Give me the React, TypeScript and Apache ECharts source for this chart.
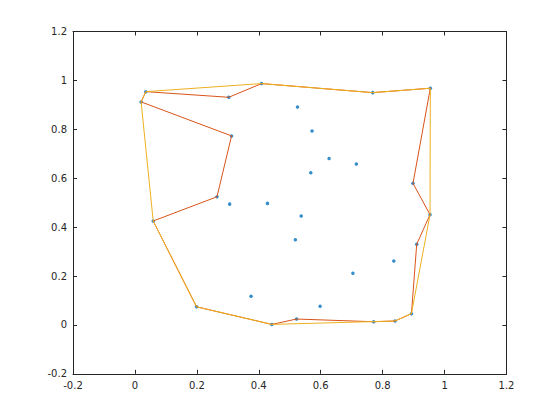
import React, { useEffect, useRef } from "react";
import * as echarts from "echarts";

const xs = [0.020, 0.035, 0.303, 0.409, 0.525, 0.312, 0.265, 0.306, 0.428, 0.768,
  0.954, 0.572, 0.627, 0.715, 0.568, 0.898, 0.059, 0.199, 0.375, 0.442,
  0.522, 0.518, 0.537, 0.953, 0.910, 0.836, 0.704, 0.598, 0.893, 0.840, 0.771];
const ys = [0.912, 0.954, 0.931, 0.987, 0.891, 0.773, 0.524, 0.494, 0.497, 0.950,
  0.968, 0.793, 0.681, 0.658, 0.622, 0.579, 0.425, 0.074, 0.117, 0.002,
  0.024, 0.348, 0.445, 0.451, 0.330, 0.261, 0.211, 0.076, 0.046, 0.016, 0.013];

// 1-based indices of boundary vertices
const tightBoundary = [1, 6, 7, 17, 18, 20, 21, 31, 30, 29, 25, 24, 16, 11, 10, 4, 3, 2, 1];
const looseBoundary = [1, 2, 4, 10, 11, 24, 29, 30, 20, 18, 17, 1];

const axisTicks = { min: -0.2, max: 1.2, interval: 0.2 };

const fmt = (v: number) => String(+v.toFixed(1));

export default function App() {
  const ref = useRef<HTMLDivElement>(null);
  useEffect(() => {
    if (!ref.current) return;
    const chart = echarts.init(ref.current, undefined, { renderer: "svg" });
    const pts = xs.map((x, i) => [x, ys[i]]);
    const axisColor = "#262626";
    const labelStyle = { color: axisColor, fontSize: 10, fontFamily: "DejaVu Sans" };
    const baseX = {
      type: "value" as const,
      ...axisTicks,
      axisLine: { show: true, onZero: false, lineStyle: { color: axisColor, width: 1 } },
      axisTick: { show: true, inside: true, length: 4, lineStyle: { color: axisColor } },
      splitLine: { show: false },
    };
    chart.setOption({
      animation: false,
      backgroundColor: "#ffffff",
      grid: { left: 73, right: 53.5, top: 31.5, bottom: 46.2, containLabel: false },
      xAxis: [
        { ...baseX, position: "bottom", axisLabel: { ...labelStyle, margin: 7, formatter: fmt } },
        { ...baseX, position: "top", axisLabel: { show: false } },
      ],
      yAxis: [
        { ...baseX, position: "left", axisLabel: { ...labelStyle, margin: 6, formatter: fmt } },
        { ...baseX, position: "right", axisLabel: { show: false } },
      ],
      series: [
        {
          type: "scatter",
          data: pts,
          symbol: "circle",
          symbolSize: 3.5,
          itemStyle: { color: "#0072BD" },
          z: 2,
        },
        {
          type: "line",
          data: tightBoundary.map((i) => pts[i - 1]),
          showSymbol: false,
          lineStyle: { color: "#D95319", width: 1 },
          z: 3,
        },
        {
          type: "line",
          data: looseBoundary.map((i) => pts[i - 1]),
          showSymbol: false,
          lineStyle: { color: "#EDB120", width: 1 },
          z: 4,
        },
      ],
    });
    return () => chart.dispose();
  }, []);
  return (
    <div
      ref={ref}
      style={{ position: "fixed", left: 0, top: 0, width: 560, height: 420, background: "#fff" }}
    />
  );
}
